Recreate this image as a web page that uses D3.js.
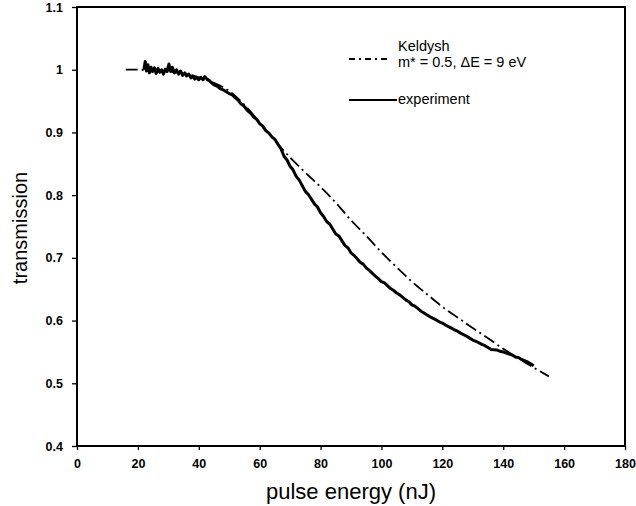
<!DOCTYPE html>
<html>
<head>
<meta charset="utf-8">
<script src="https://cdn.jsdelivr.net/npm/d3@7"></script>
<style>
  body { margin: 0; background: #fff; }
  .tick text { font-family: "Liberation Sans", Arial, sans-serif; font-weight: bold; font-size: 12.5px; }
</style>
</head>
<body>
<div id="chart-area"></div>
<script>
// data
var expX = [22,22.4,22.8,23.3,23.8,24.3,24.8,25.4,26,26.6,27.2,27.8,28.4,29,29.6,30.2,30.7,31.3,32,32.7,33.4,34,34.7,35.4,36,36.7,37.4,38,38.7,39.4,40,40.7,41.4,42,42.7,43.4,44,45,46,47,48,49,50,51,52,53,54,55,56,57,58,59,60,61,62,63,64,65,66,67,68,69,70,71,72,73,75,76,78,79,80,81,82,83,85,86,88,89,90,91,93,94,95,96,98,99,100,101,103,104,105,106,108,109,110,111,113,114,115,116,118,119,120,121,123,124,125,126,128,129,130,131,133,134,135,136,138,139,140,141,143,144,145,146,148,149,150];
var expY = [1.0,1.013,0.998,1.008,0.995,1.004,0.997,1.003,0.994,1.002,0.996,1.0,0.993,1.001,0.997,1.009,0.998,1.004,0.995,1.0,0.993,0.998,0.991,0.995,0.99,0.993,0.987,0.99,0.985,0.988,0.984,0.988,0.984,0.989,0.985,0.983,0.98,0.976,0.974,0.97,0.968,0.965,0.962,0.96,0.955,0.951,0.945,0.941,0.935,0.931,0.925,0.921,0.914,0.91,0.903,0.899,0.893,0.889,0.881,0.874,0.862,0.856,0.846,0.840,0.83,0.824,0.806,0.801,0.786,0.781,0.772,0.766,0.758,0.754,0.738,0.735,0.72,0.716,0.708,0.704,0.693,0.690,0.684,0.680,0.671,0.667,0.662,0.660,0.651,0.648,0.644,0.641,0.633,0.630,0.625,0.623,0.615,0.612,0.609,0.606,0.601,0.598,0.596,0.593,0.588,0.585,0.583,0.580,0.575,0.572,0.569,0.567,0.562,0.560,0.557,0.554,0.553,0.551,0.55,0.548,0.545,0.542,0.541,0.538,0.534,0.531,0.528];
var keldX = [16,20,25,30,35,40,45,50,55,60,65,70,75,80,85,90,95,100,105,110,115,120,125,130,135,140,145,150,155];
var keldY = [1.0,1.0,0.999,0.997,0.994,0.988,0.979,0.966,0.944,0.916,0.887,0.86,0.836,0.813,0.788,0.76,0.735,0.709,0.685,0.662,0.642,0.622,0.605,0.588,0.572,0.555,0.54,0.525,0.511];
var xTicks = [0,20,40,60,80,100,120,140,160,180];
var yTicks = [0.4,0.5,0.6,0.7,0.8,0.9,1,1.1];

var margin = {top: 7, right: 11, bottom: 60, left: 77};
var width = 636 - margin.left - margin.right;
var height = 506 - margin.top - margin.bottom;

var svg = d3.select("#chart-area").append("svg").attr("width", 636).attr("height", 506);
var g = svg.append("g").attr("transform", "translate(" + margin.left + ", " + margin.top + ")");

// Scales
var x = d3.scaleLinear().domain([0, 180]).range([0, width]);
var y = d3.scaleLinear().domain([0.4, 1.1]).range([height, 0]);

// Axis
var xAxisGroup = g.append("g").attr("transform", "translate(0, " + height + ")")
  .call(d3.axisBottom(x).tickValues(xTicks).tickSize(4).tickPadding(9).tickFormat(d3.format("d")));
var yAxisGroup = g.append("g")
  .call(d3.axisLeft(y).tickValues(yTicks).tickSize(5).tickPadding(9).tickFormat((d) => { return d3.format("")(+d.toFixed(1)); }));
g.selectAll(".domain").remove();
g.selectAll(".tick line").attr("stroke", "#000").attr("stroke-width", 1.3);

// frame
g.append("rect").attr("x", 0).attr("y", 0).attr("width", width).attr("height", height)
  .attr("fill", "none").attr("stroke", "#000").attr("stroke-width", 2);

// lines
var keld = keldX.map((d, i) => [d, keldY[i]]);
var exp = expX.map((d, i) => [d, expY[i]]);
var line = d3.line().x((d) => x(d[0])).y((d) => y(d[1])).curve(d3.curveMonotoneX);

g.append("path").datum(keld).attr("d", line).attr("fill", "none").attr("stroke", "#000")
  .attr("stroke-width", 1.8).attr("stroke-dasharray", "12,4,2,4");
g.append("path").datum(exp).attr("d", d3.line().x((d) => x(d[0])).y((d) => y(d[1])))
  .attr("fill", "none").attr("stroke", "#000").attr("stroke-width", 3).attr("stroke-linejoin", "round");

// Legend
var leg = svg.append("g").attr("font-family", "'Liberation Sans', Arial, sans-serif").attr("font-size", "14.5px");
leg.append("line").attr("x1", 349).attr("x2", 390).attr("y1", 59).attr("y2", 59)
  .attr("stroke", "#000").attr("stroke-width", 1.8).attr("stroke-dasharray", "6,4,2,4");
leg.append("text").attr("x", 398).attr("y", 51).text("Keldysh");
leg.append("text").attr("x", 398).attr("y", 67).text("m* = 0.5, \u0394E = 9 eV");
leg.append("line").attr("x1", 349).attr("x2", 397).attr("y1", 100).attr("y2", 100)
  .attr("stroke", "#000").attr("stroke-width", 2);
leg.append("text").attr("x", 398).attr("y", 104).text("experiment");

// Labels
svg.append("text").attr("x", margin.left + width / 2).attr("y", 499).attr("text-anchor", "middle")
  .attr("font-family", "'Liberation Sans', Arial, sans-serif").attr("font-size", "22px").text("pulse energy (nJ)");
svg.append("text").attr("transform", "translate(27, 228) rotate(-90)").attr("text-anchor", "middle")
  .attr("font-family", "'Liberation Sans', Arial, sans-serif").attr("font-size", "20px").text("transmission");
</script>
</body>
</html>
